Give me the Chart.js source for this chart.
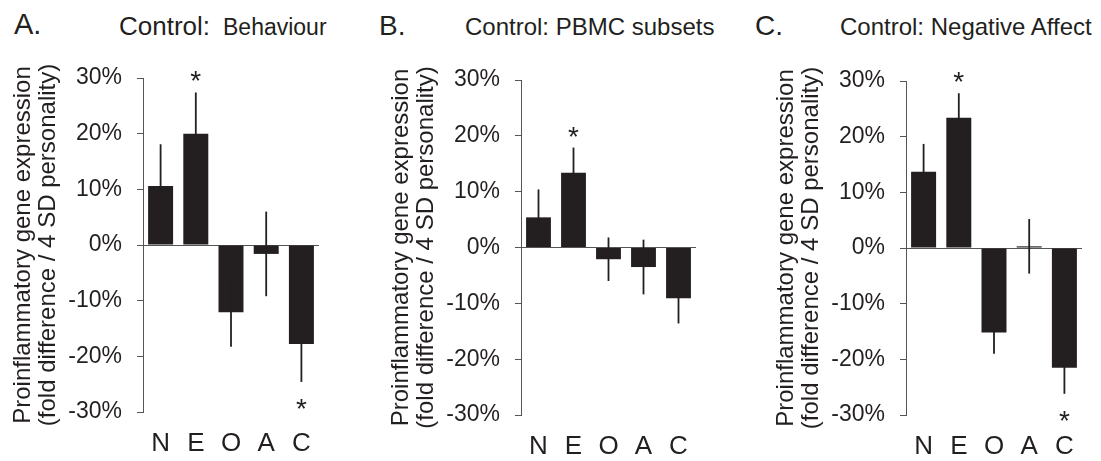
<!DOCTYPE html>
<html>
<head>
<meta charset="utf-8">
<script src="https://cdn.jsdelivr.net/npm/chart.js@4/dist/chart.umd.min.js"></script>
<style>
  body { margin: 0; background: #fff; width: 1101px; height: 461px; position: relative; overflow: hidden; }
  .t { position: absolute; line-height: 1; color: #231f20; font-family: 'Liberation Sans', Arial, sans-serif; white-space: nowrap; }
  canvas { position: absolute; top: 0; }
</style>
</head>
<body>
<span class="t" style="left:14px;top:10px;font-size:29px">A.</span>
<span class="t" style="left:119px;top:13px;font-size:26px">Control:</span>
<span class="t" style="left:223px;top:15.5px;font-size:23px">Behaviour</span>

<span class="t" style="left:379px;top:11.5px;font-size:28px">B.</span>
<span class="t" style="left:465px;top:15px;font-size:24px">Control: PBMC subsets</span>

<span class="t" style="left:755px;top:11.5px;font-size:28px">C.</span>
<span class="t" style="left:840px;top:15px;font-size:24px">Control: Negative Affect</span>

<canvas id="chartA" width="367" height="461" style="left:0px"></canvas>
<canvas id="chartB" width="367" height="461" style="left:378px"></canvas>
<canvas id="chartC" width="338" height="461" style="left:763px"></canvas>

<script>
const traits = ['N', 'E', 'O', 'A', 'C'];
const yTicks = [-30, -20, -10, 0, 10, 20, 30];

// percent difference per 4 SD of personality, with error (symmetric)
const behaviourVals = [10.6, 20.0, -12.1, -1.6, -17.8];
const behaviourErr  = [7.5, 7.4, 6.2, 7.6, 6.8];
const behaviourSig  = [false, true, false, false, true];

const pbmcVals = [5.4, 13.4, -2.1, -3.5, -9.1];
const pbmcErr  = [5.0, 4.5, 3.9, 4.9, 4.5];
const pbmcSig  = [false, true, false, false, false];

const negAffVals = [13.7, 23.4, -15.2, 0.3, -21.5];
const negAffErr  = [5.0, 4.4, 3.8, 4.9, 4.7];
const negAffSig  = [false, true, false, false, true];

const ink = '#231f20';
const fontFam = "'Liberation Sans', Arial, sans-serif";

const errBars = {
    id: 'errbars',
    afterDatasetsDraw(chart, args, opts) {
        const ctx = chart.ctx;
        const y = chart.scales.y;
        const vals = chart.data.datasets[0].data;
        ctx.save();
        ctx.strokeStyle = ink;
        ctx.lineWidth = 1.8;
        ctx.fillStyle = ink;
        ctx.font = '28px ' + fontFam;
        ctx.textAlign = 'center';
        ctx.textBaseline = 'alphabetic';
        chart.getDatasetMeta(0).data.forEach((bar, i) => {
            const top = y.getPixelForValue(vals[i] + opts.errors[i]);
            const bot = y.getPixelForValue(vals[i] - opts.errors[i]);
            ctx.beginPath();
            ctx.moveTo(bar.x, top);
            ctx.lineTo(bar.x, bot);
            ctx.stroke();
            if (opts.sig[i]) {
                const cy = vals[i] >= 0 ? top - 18 : bot + 20;
                ctx.fillText('*', bar.x, cy + 16);
            }
        });
        ctx.restore();
    }
};

function makeChart(id, vals, errs, sig, top, bottom, padRight) {
    const h = 461;
    return new Chart(document.getElementById(id), {
        type: 'bar',
        data: {
            labels: traits,
            datasets: [{
                data: vals,
                backgroundColor: ink,
                borderWidth: 0,
                barPercentage: 0.71,
                categoryPercentage: 1.0
            }]
        },
        options: {
            responsive: false,
            animation: false,
            layout: { padding: { top: top, bottom: 0, left: 0, right: padRight } },
            plugins: {
                legend: { display: false },
                tooltip: { enabled: false },
                errbars: { errors: errs, sig: sig }
            },
            scales: {
                x: {
                    grid: { display: false, drawTicks: false },
                    border: { display: false },
                    ticks: { color: ink, padding: 16, font: { family: fontFam, size: 26 } },
                    afterFit: (s) => { s.height = h - bottom; }
                },
                y: {
                    min: yTicks[0],
                    max: yTicks[yTicks.length - 1],
                    afterBuildTicks: (s) => { s.ticks = yTicks.map(v => ({ value: v })); },
                    ticks: {
                        color: ink,
                        padding: 15,
                        font: { family: fontFam, size: 23 },
                        callback: (v) => v + '%'
                    },
                    grid: {
                        color: (c) => (c.tick && c.tick.value === 0) ? '#555' : 'rgba(0,0,0,0)',
                        tickColor: '#555',
                        tickLength: 6,
                        lineWidth: 1
                    },
                    border: { display: true, color: '#555', width: 1 },
                    title: {
                        display: true,
                        text: ['Proinflammatory gene expression', '(fold difference / 4 SD personality)'],
                        color: ink,
                        font: { family: fontFam, size: 24, lineHeight: 1.05 },
                        padding: { top: 11, bottom: 0 }
                    },
                    afterFit: (s) => { s.width = 143; }
                }
            }
        },
        plugins: [errBars]
    });
}

makeChart('chartA', behaviourVals, behaviourErr, behaviourSig, 78, 412, 48);
makeChart('chartB', pbmcVals, pbmcErr, pbmcSig, 80, 415, 49);
makeChart('chartC', negAffVals, negAffErr, negAffSig, 81, 415, 19);
</script>
</body>
</html>
